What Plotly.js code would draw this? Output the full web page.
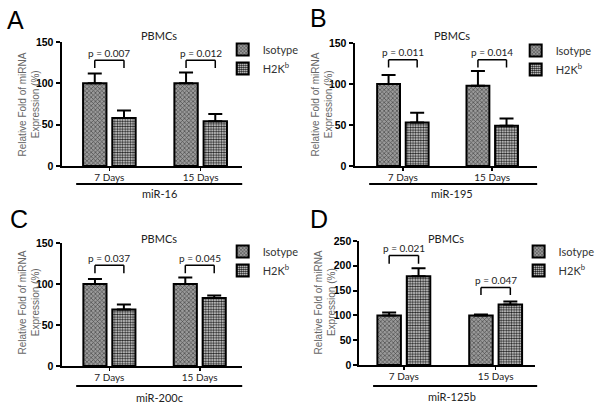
<!DOCTYPE html>
<html>
<head>
<meta charset="utf-8">
<script src="https://cdn.plot.ly/plotly-3.0.1.min.js"></script>
<style>html,body{margin:0;padding:0;background:#fff}#chart{width:600px;height:408px}</style>
</head>
<body>
<div id="chart"></div>
<script>
// ---- data ----
const groups = ['7 Days', '15 Days'];
const panelLetters = ['A', 'B', 'C', 'D'];
const mirnaNames = ['miR-16', 'miR-195', 'miR-200c', 'miR-125b'];
const seriesNames = ['Isotype', 'H2K<sup>b</sup>'];
const yTitleLines = ['Relative Fold of miRNA', 'Expression (%)'];

const isotypeA = [100, 100];
const isotypeErrA = [12, 13];
const h2kA = [58, 54];
const h2kErrA = [9, 9];
const pValuesA = ['p = 0.007', 'p = 0.012'];

const isotypeB = [100, 98];
const isotypeErrB = [11, 18];
const h2kB = [53, 49];
const h2kErrB = [12, 9];
const pValuesB = ['p = 0.011', 'p = 0.014'];

const isotypeC = [100, 100];
const isotypeErrC = [6, 8];
const h2kC = [69, 83];
const h2kErrC = [6, 3];
const pValuesC = ['p = 0.037', 'p = 0.045'];

const isotypeD = [100, 100];
const isotypeErrD = [6, 2];
const h2kD = [179, 122];
const h2kErrD = [16, 6];
const pValuesD = ['p = 0.021', 'p = 0.047'];

const yTicksABC = [0, 50, 100, 150];
const yTicksD = [0, 50, 100, 150, 200, 250];

// ---- layout config (pixel positions) ----
const W = 600, H = 408;
const px = x => x / W;
const py = y => 1 - y / H;

const panels = [
  {iso: isotypeA, isoErr: isotypeErrA, h2k: h2kA, h2kErr: h2kErrA, p: pValuesA, ticks: yTicksABC, ymax: 150,
   xd: [63, 248], y0: 166, ytop: 42, xr: [-0.524, 1.455], br: [[128, 118.5, 137], [128, 118.5, 137]],
   grp: [78, 248, 184, 193, 163], title: [163, 35], letter: [16, 20], ytitle: [23, 36, 104], leg: [228, 35]},
  {iso: isotypeB, isoErr: isotypeErrB, h2k: h2kB, h2kErr: h2kErrB, p: pValuesB, ticks: yTicksABC, ymax: 150,
   xd: [363, 550], y0: 166, ytop: 43, xr: [-0.541, 1.503], br: [[129.6, 120, 138.5], [129.6, 120, 138.5]],
   grp: [378, 550, 184, 193, 463], title: [463, 35], letter: [326, 18], ytitle: [323, 336, 104], leg: [528, 36]},
  {iso: isotypeC, isoErr: isotypeErrC, h2k: h2kC, h2kErr: h2kErrC, p: pValuesC, ticks: yTicksABC, ymax: 150,
   xd: [63, 248], y0: 366, ytop: 243, xr: [-0.530, 1.47], br: [[122.8, 113, 132], [122.8, 113, 132]],
   grp: [78, 248, 386, 397, 163], title: [163, 238], letter: [19, 219], ytitle: [23, 36, 302], leg: [228, 237]},
  {iso: isotypeD, isoErr: isotypeErrD, h2k: h2kD, h2kErr: h2kErrD, p: pValuesD, ticks: yTicksD, ymax: 250,
   xd: [368, 548], y0: 365, ytop: 241, xr: [-0.484, 1.431], br: [[221, 204, 236], [156, 141, 171]],
   grp: [382, 550, 386, 396, 463], title: [457, 238], letter: [327, 219], ytitle: [326, 339, 302], leg: [531, 237]}
];

const isoPattern = {shape: 'x', size: 3, solidity: 0.4, fgcolor: '#4a4a4a', bgcolor: '#9a9a9a', fillmode: 'replace'};
const h2kPattern = {shape: '.', size: 2.6, solidity: 0.55, fgcolor: '#222', bgcolor: '#ececec', fillmode: 'replace'};

const traces = [];
const shapes = [];
const annotations = [];
const layout = {
  width: W, height: H,
  margin: {l: 0, r: 0, t: 0, b: 0},
  paper_bgcolor: '#fff', plot_bgcolor: 'rgba(0,0,0,0)',
  barmode: 'group', bargap: 0.36, bargroupgap: 0.2,
  font: {family: 'Liberation Sans, Arial, sans-serif', color: '#000'},
  shapes: shapes, annotations: annotations
};

const lblFont = {family: 'Lato, Open Sans, sans-serif', size: 10, color: '#222'};
const ann = (o) => Object.assign({showarrow: false, xanchor: 'center', yanchor: 'middle', xref: 'paper', yref: 'paper'}, o);

panels.forEach((p, i) => {
  const n = i === 0 ? '' : String(i + 1);
  const xa = 'x' + n, ya = 'y' + n;
  const legName = i === 0 ? 'legend' : 'legend' + (i + 1);
  traces.push({
    type: 'bar', x: groups, y: p.iso, name: seriesNames[0], xaxis: xa, yaxis: ya, legend: legName,
    marker: {color: '#8c8c8c', pattern: isoPattern, line: {color: '#000', width: 2}},
    error_y: {type: 'data', array: p.isoErr, arrayminus: p.iso.map(() => 0), symmetric: false, color: '#000', thickness: 2, width: 7}
  });
  traces.push({
    type: 'bar', x: groups, y: p.h2k, name: seriesNames[1], xaxis: xa, yaxis: ya, legend: legName,
    marker: {color: '#bdbdbd', pattern: h2kPattern, line: {color: '#000', width: 2}},
    error_y: {type: 'data', array: p.h2kErr, arrayminus: p.h2k.map(() => 0), symmetric: false, color: '#000', thickness: 2, width: 7}
  });
  const xName = 'xaxis' + n, yName = 'yaxis' + n;
  layout[xName] = {
    domain: [px(p.xd[0]), px(p.xd[1])], anchor: ya, type: 'category', range: p.xr,
    showline: true, linecolor: '#000', linewidth: 2, ticks: 'outside', ticklen: 3, tickwidth: 1.5, tickcolor: '#000',
    ticklabelstandoff: -2,
    tickfont: lblFont, showgrid: false, zeroline: false, fixedrange: true
  };
  layout[yName] = {
    domain: [py(p.y0), py(p.ytop)], anchor: xa, range: [0, p.ymax],
    showline: true, linecolor: '#000', linewidth: 2, ticks: 'outside', ticklen: 4, tickwidth: 2, tickcolor: '#000',
    tickvals: p.ticks, ticktext: p.ticks.map(String),
    tickfont: {family: 'Liberation Sans, Arial, sans-serif', size: 10.5, color: '#000', weight: 'bold'},
    showgrid: false, zeroline: false, fixedrange: true
  };
  layout[legName] = {
    x: px(p.leg[0]), y: py(p.leg[1]), xanchor: 'left', yanchor: 'top',
    font: {family: 'Lato, Open Sans, sans-serif', size: 11, color: '#333'},
    bgcolor: 'rgba(0,0,0,0)', itemwidth: 30, tracegroupgap: 0, traceorder: 'normal'
  };
  // significance brackets
  p.br.forEach((b, g) => {
    const x0 = g - 0.16, x1 = g + 0.16;
    const line = {type: 'line', xref: xa, yref: ya, line: {color: '#000', width: 1.5}};
    shapes.push(Object.assign({}, line, {x0: x0, x1: x1, y0: b[0], y1: b[0]}));
    shapes.push(Object.assign({}, line, {x0: x0, x1: x0, y0: b[1], y1: b[0]}));
    shapes.push(Object.assign({}, line, {x0: x1, x1: x1, y0: b[1], y1: b[0]}));
    annotations.push(ann({xref: xa, yref: ya, x: g, y: b[2], text: p.p[g],
      font: {family: 'Lato, Open Sans, sans-serif', size: 10, color: '#222'}}));
  });
  // group line and label
  shapes.push({type: 'line', xref: 'paper', yref: 'paper', x0: px(p.grp[0]), x1: px(p.grp[1]),
    y0: py(p.grp[2]), y1: py(p.grp[2]), line: {color: '#000', width: 2}});
  annotations.push(ann({x: px(p.grp[4]), y: py(p.grp[3]), text: mirnaNames[i],
    font: {family: 'Lato, Open Sans, sans-serif', size: 11, color: '#222'}}));
  // panel title
  annotations.push(ann({x: px(p.title[0]), y: py(p.title[1]), text: 'PBMCs',
    font: {family: 'Lato, Open Sans, sans-serif', size: 11, color: '#222'}}));
  // panel letter
  annotations.push(ann({x: px(p.letter[0]), y: py(p.letter[1]), text: panelLetters[i],
    font: {family: 'Liberation Sans, Arial, sans-serif', size: 25, color: '#000'}}));
  // y title (two lines)
  yTitleLines.forEach((t, k) => {
    annotations.push(ann({x: px(p.ytitle[k]), y: py(p.ytitle[2]), text: t, textangle: -90,
      font: {family: 'Liberation Sans, Arial, sans-serif', size: 10, color: '#666'}}));
  });
});

Plotly.newPlot('chart', traces, layout, {displayModeBar: false, staticPlot: true});
</script>
</body>
</html>
